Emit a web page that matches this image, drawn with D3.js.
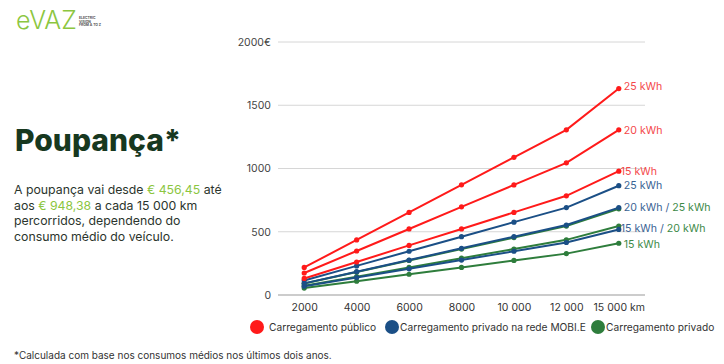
<!DOCTYPE html>
<html>
<head>
<meta charset="utf-8">
<script src="https://cdn.jsdelivr.net/npm/d3@7"></script>
<style>
  html, body { margin: 0; padding: 0; background: #fff; }
  svg { display: block; font-family: Inter, "Noto Sans", sans-serif; }
</style>
</head>
<body>
<div id="chart"></div>
<script>
// distance categories (km)
const distances = ["2000", "4000", "6000", "8000", "10 000", "12 000", "15 000 km"];
const yTicks = [0, 500, 1000, 1500, 2000];

// savings in euro
const publico25 = [218, 435, 653, 871, 1088, 1306, 1632];
const publico20 = [174, 348, 522, 697, 870, 1045, 1306];
const publico15 = [131, 261, 392, 522, 653, 784, 979];

const mobie25 = [115, 230, 346, 461, 576, 691, 864];
const mobie20 = [92, 184, 276, 369, 461, 553, 691];
const mobie15 = [69, 138, 207, 276, 346, 415, 518];

const privado25 = [91, 182, 273, 363, 454, 545, 681];
const privado20 = [73, 145, 218, 291, 363, 436, 545];
const privado15 = [55, 109, 164, 218, 273, 327, 409];

const legendNames = ["Carregamento público", "Carregamento privado na rede MOBI.E", "Carregamento privado"];

const RED = "#ff1a1a", BLUE = "#1b4f86", GREEN = "#2e7d3c";
const RED_TXT = "#f4474a", BLUE_TXT = "#3a6394", GREEN_TXT = "#3d8a48";

const series = [
  { values: privado15, color: GREEN },
  { values: privado20, color: GREEN },
  { values: privado25, color: GREEN },
  { values: mobie15, color: BLUE },
  { values: mobie20, color: BLUE },
  { values: mobie25, color: BLUE },
  { values: publico15, color: RED },
  { values: publico20, color: RED },
  { values: publico25, color: RED }
];

const W = 724, H = 364;
const svg = d3.select("#chart").append("svg").attr("width", W).attr("height", H);

// logo
const logo = svg.append("g");
logo.append("text").attr("x", 16).attr("y", 29)
  .attr("font-size", 25).attr("font-weight", 300).attr("fill", "#8cc63f")
  .attr("letter-spacing", 0).text("eVAZ");
["ELECTRIC", "VISION", "FROM A TO Z"].forEach((t, i) => {
  logo.append("text").attr("x", 79).attr("y", 19 + i * 3.6)
    .attr("font-size", 3.4).attr("font-weight", 700).attr("fill", "#555").text(t);
});

// heading + paragraph
svg.append("text").attr("x", 15).attr("y", 151)
  .attr("font-size", 30).attr("font-weight", 800).attr("fill", "#17381f")
  .text("Poupança*");

const para = svg.append("text").attr("font-size", 12.3).attr("fill", "#2b352d");
const lines = [
  [["A poupança vai desde ", null], ["€ 456,45", "#8cc63f"], [" até", null]],
  [["aos ", null], ["€ 948,38", "#8cc63f"], [" a cada 15 000 km", null]],
  [["percorridos, dependendo do", null]],
  [["consumo médio do veículo.", null]]
];
lines.forEach((ln, i) => {
  ln.forEach((p, j) => {
    const ts = para.append("tspan").text(p[0]);
    if (j === 0) ts.attr("x", 14).attr("y", 194 + i * 15.6);
    if (p[1]) ts.attr("fill", p[1]);
  });
});

// chart area
const x = d3.scalePoint().domain(distances).range([278, 645]).padding(0.5);
const y = d3.scaleLinear().domain([0, 2000]).range([295, 42]);

const grid = svg.append("g");
grid.selectAll("line").data(yTicks).join("line")
  .attr("x1", 278).attr("x2", 645)
  .attr("y1", d => y(d)).attr("y2", d => y(d))
  .attr("stroke", d => d === 0 ? "#999" : "#d6d6d6").attr("stroke-width", 1);

const yAxis = svg.append("g").attr("transform", "translate(274,0)")
  .call(d3.axisLeft(y).tickValues(yTicks).tickSize(0)
    .tickFormat(d => d === 2000 ? "2000€" : d));
yAxis.select(".domain").remove();
yAxis.selectAll("text").attr("font-size", 10.5).attr("fill", "#444")
  .attr("font-family", "Inter, 'Noto Sans', sans-serif");

const xAxis = svg.append("g").attr("transform", "translate(0,300)")
  .call(d3.axisBottom(x).tickSize(0));
xAxis.select(".domain").remove();
xAxis.selectAll("text").attr("font-size", 10.5).attr("fill", "#333")
  .attr("font-family", "Inter, 'Noto Sans', sans-serif")
  .attr("dy", "0.72em");

const line = d3.line().x((d, i) => x(distances[i])).y(d => y(d));
const lg = svg.append("g");
series.forEach(s => {
  lg.append("path").attr("d", line(s.values))
    .attr("fill", "none").attr("stroke", s.color).attr("stroke-width", 2);
  lg.selectAll(null).data(s.values).join("circle")
    .attr("cx", (d, i) => x(distances[i])).attr("cy", d => y(d))
    .attr("r", 2.6).attr("fill", s.color);
});

// end labels
const last = distances[distances.length - 1];
const lx = x(last) + 5;
const endLabels = [
  { v: publico25[6], dx: 0, dy: -2, parts: [["25 kWh", RED_TXT]] },
  { v: publico20[6], dx: 0, parts: [["20 kWh", RED_TXT]] },
  { v: publico15[6], dx: -3, parts: [["15 kWh", RED_TXT]] },
  { v: mobie25[6], dx: 0, parts: [["25 kWh", BLUE_TXT]] },
  { v: mobie20[6], dx: 0, parts: [["20 kWh", BLUE_TXT], [" / ", BLUE_TXT], ["25 kWh", GREEN_TXT]] },
  { v: privado20[6], dx: -3, dy: 2, parts: [["15 kWh", BLUE_TXT], [" / ", BLUE_TXT], ["20 kWh", GREEN_TXT]] },
  { v: privado15[6], dx: 0, dy: 1, parts: [["15 kWh", GREEN_TXT]] }
];
endLabels.forEach(l => {
  const t = svg.append("text").attr("x", lx + l.dx).attr("y", y(l.v) + (l.dy || 0))
    .attr("dy", "0.35em").attr("font-size", 10.6);
  l.parts.forEach(p => t.append("tspan").attr("fill", p[1]).text(p[0]));
});

// legend
const legendColors = [RED, BLUE, GREEN];
const legendX = [257, 392, 598];
const legend = svg.append("g");
legendNames.forEach((n, i) => {
  legend.append("circle").attr("cx", legendX[i]).attr("cy", 327).attr("r", 7)
    .attr("fill", legendColors[i]);
  legend.append("text").attr("x", legendX[i] + (i === 0 ? 12 : 8)).attr("y", 327)
    .attr("dy", "0.35em").attr("font-size", 10.2).attr("fill", "#333").text(n);
});

// footnote
svg.append("text").attr("x", 14).attr("y", 359).attr("font-size", 10).attr("fill", "#333")
  .text("*Calculada com base nos consumos médios nos últimos dois anos.");
</script>
</body>
</html>
